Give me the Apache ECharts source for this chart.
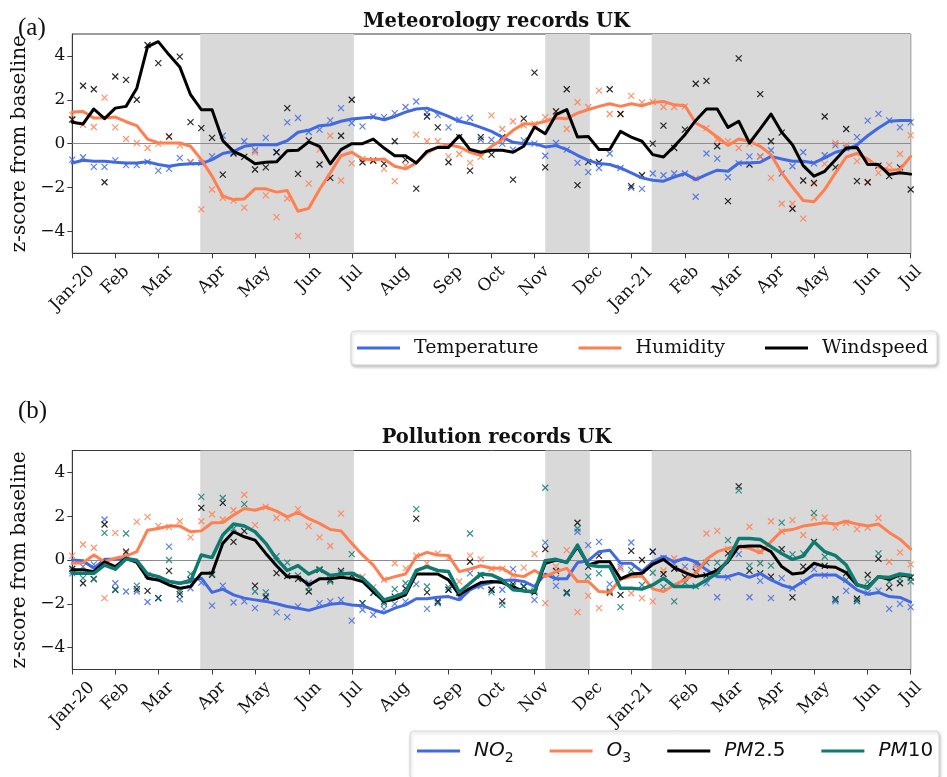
<!DOCTYPE html>
<html>
<head>
<meta charset="utf-8">
<script src="https://cdn.jsdelivr.net/npm/echarts@6/dist/echarts.min.js"></script>
<style>
  html, body { margin: 0; padding: 0; background: #ffffff; }
  #chart { width: 947px; height: 777px; }
</style>
</head>
<body>
<div id="chart"></div>
<script>
// Weekly z-scores (week 0 = first week of Jan 2020, week 78 = first week of Jul 2021)
const monthTickWeeks  = [0, 4, 8, 13, 17, 22, 26, 30, 35, 39, 43, 48, 52, 57, 61, 65, 69, 74, 78];
const monthTickLabels = ['Jan-20', 'Feb', 'Mar', 'Apr', 'May', 'Jun', 'Jul', 'Aug', 'Sep', 'Oct', 'Nov', 'Dec',
                         'Jan-21', 'Feb', 'Mar', 'Apr', 'May', 'Jun', 'Jul'];
const yTicks = [-4, -2, 0, 2, 4];

// Lockdown periods, in weeks
const lockdownStart = [11.9, 44.0, 53.9];
const lockdownEnd   = [26.2, 48.15, 78];

// ---- Meteorology: smoothed lines ----
const temperatureLine = [
  -0.88, -0.76, -0.8, -0.8, -0.85, -0.88, -0.88, -0.83, -0.95, -1.03, -0.95, -0.92, -0.91, -0.73, -0.45, -0.35,
  -0.12, -0.05, -0.05, -0.05, 0.14, 0.52, 0.61, 0.82, 0.86, 1.02, 1.12,
  1.17, 1.21, 1.09, 1.24, 1.44, 1.58, 1.62, 1.44, 1.24, 1.02, 0.91, 0.74, 0.56, 0.3, 0.06, 0, 0, -0.15, -0.09,
  -0.27, -0.53, -0.76, -0.91, -0.95, -1.11, -1.33, -1.56, -1.67,
  -1.71, -1.52, -1.36, -1.64, -1.41, -1.21, -1.26, -0.88, -0.88, -0.85, -0.58, -0.7, -0.8, -0.8, -0.88, -0.65,
  -0.39, -0.27, -0.05, 0.36, 0.71, 1.02, 1.06, 1.05
];
const humidityLine = [
  1.44, 1.47, 1.17, 1.17, 1.21, 1.0, 0.82, 0.21, 0.03, 0.03, 0.03, -0.12, -0.73, -1.48, -2.39, -2.55, -2.52,
  -2.06, -2.06, -2.21, -2.14, -3.08, -2.95, -2.09, -1.33, -0.55, -0.39,
  -0.7, -0.73, -0.7, -1.03, -1.15, -0.88, -0.42, -0.15, -0.05, -0.15, -0.39, -0.53, -0.12, 0.18, 0.61, 0.91,
  0.89, 1.02, 1.17, 1.14, 1.39, 1.55, 1.7, 1.82, 1.7, 1.82, 1.73, 1.88,
  1.92, 1.77, 1.73, 0.94, 0.67, 0.3, -0.08, 0.21, 0.11, -0.12, -0.5, -1.33, -1.98, -2.59, -2.65, -2.09, -1.33,
  -0.61, -0.45, -0.7, -1.06, -1.21, -1.18, -0.58
];
const windspeedLine = [
  0.98, 0.9, 1.58, 1.14, 1.62, 1.7, 2.53, 4.42, 4.65, 4.05, 3.5, 2.23, 1.55, 1.55, 0.14, -0.35, -0.58, -0.92,
  -0.85, -0.83, -0.32, -0.3, 0.08, -0.12, -0.92, -0.27, 0,
  0, 0.21, -0.2, -0.55, -0.55, -0.88, -0.35, -0.17, -0.17, 0.36, -0.27, -0.39, -0.3, -0.3, -0.39, -0.12, 0.76,
  0.45, 1.32, 1.55, 0.3, 0.33, -0.27, -0.27, 0.56, 0.3, 0.11, -0.5,
  -0.61, -0.12, 0.41, 1.06, 1.58, 1.58, 0.74, 1.02, 0.03, 0.67, 1.35, 0.52, -0.05, -1.0, -1.48, -1.26, -0.73,
  -0.2, -0.17, -0.95, -0.95, -1.41, -1.33, -1.39
];

// ---- Meteorology: weekly values ----
const temperatureWeekly = [
  -0.73, -0.62, -1.06, -1.06, -0.76, -0.98, -0.98, -0.83, -1.23, -1.15, -0.65, -0.85, -0.88, -0.58, 0.36, -0.4,
  0.11, -0.3, 0.26, -0.39, 0.97, 1.17, 0.53, 0.64, 1.06, 1.62, 0.94,
  0.79, 1.24, 1.21, 1.39, 1.67, 1.92, 1.42, 1.3, 0.74, 1.09, 1.17, 0.18, 0.18, 0, -0.27, 0.15, 0, -0.55, 0.03,
  -0.27, -0.88, -1.3, -1.11, -0.45, -1.11, -2.02, -2.06, -1.36,
  -1.44, -1.36, -1.36, -2.42, -0.45, -0.68, -1.53, -0.9, -0.58, -0.58, -0.3, -1.36, -1.03, -0.39, -0.9, -0.53,
  -0.08, -0.2, 0.3, 1.05, 1.36, 1.06, 0.74, 0.97
];
const humidityWeekly = [
  1.3, 0.86, 0.76, 2.1, 0.74, 0.21, 0.03, -0.2, 0.0, 0.3, -0.08, -0.85, -3.0, -2.09, -2.47, -2.6, -2.92, -0.4,
  -2.36, -3.35, -2.5, -4.21, -1.82, -0.27, 0.36, -1.68, -0.9,
  -0.7, -0.8, -1.15, -1.71, -1.0, 0.41, 0.11, 0.11, -0.58, -0.47, -0.88, -0.6, 1.29, 0.67, 1.02, 0.83, 0.9,
  1.21, 1.47, 0.67, 1.89, 1.67, 2.42, 1.35, 1.35, 2.18, 1.88, 1.9,
  1.67, 1.67, 1.7, -1.59, 0.71, 0.18, 0.11, -0.2, 0.0, -0.61, -1.56, -2.74, -2.74, -3.42, -1.83, -0.92, 0.03,
  -0.08, -0.8, -1.76, -1.33, -0.98, -0.47, 0.38
];
const windspeedWeekly = [
  1.1, 2.64, 2.48, -1.76, 3.06, 2.91, 2.0, 4.5, 3.67, 0.33, 3.97, 0.98, 0.71, 0.26, -1.41, -0.45, -0.6, -1.18,
  -1.08, -0.39, 1.62, -1.38, 0.15, -0.95, -1.56, 0.36, 2.0,
  -0.85, -0.77, -0.91, 0.11, -0.73, -2.05, 1.24, 0.74, -0.85, 0.3, -1.23, 0.3, -0.5, 0.29, -1.64, 1.14, 3.24,
  -1.08, 1.47, 2.48, -1.89, -0.83, -0.85, 2.48, 1.35, -1.94, -1.44, 0,
  0.82, -0.2, 0.64, 2.73, 2.86, -0.12, -2.62, 3.89, -0.95, 2.26, 0.11, 0.5, -2.97, -1.68, -1.79, 1.24, -1.08,
  0.67, -1.71, -1.76, -1.0, -1.48, -1.08, -2.09
];

// ---- Pollution: smoothed lines ----
const no2Line = [
  0, -0.03, -0.38, 0.03, 0.03, 0.08, 0, -0.83, -0.91, -0.98, -1.06, -0.91, -0.83, -1.48, -1.33, -1.59, -1.74,
  -1.82, -1.89, -2.0, -2.12, -2.2, -2.3, -2.15, -2.02, -1.97, -2.05,
  -2.09, -2.27, -2.42, -2.2, -2.05, -1.77, -1.77, -1.7, -1.67, -1.82, -1.36, -1.14, -1.03, -0.94, -0.91, -0.98,
  -1.21, -0.64, -0.86, -0.86, -0.12, -0.03, 0.38, 0.45, -0.15, -0.15, -0.53, -0.08,
  0.15, -0.08, 0.08, -0.08, -0.45, -0.76, -0.76, -0.61, -0.79, -0.61, -0.91, -1.14, -1.29, -0.98, -0.68, -0.68,
  -0.68, -0.98, -1.36, -1.56, -1.48, -1.67, -1.71, -1.92
];
const o3Line = [
  -0.15, -0.12, 0.23, -0.08, 0.08, 0.18, 0.38, 1.36, 1.44, 1.55, 1.55, 1.29, 1.33, 1.7, 1.71, 2.05, 2.35, 2.27,
  2.42, 2.23, 1.97, 2.17, 1.89, 1.67, 1.39, 1.33, 0.76,
  0.23, -0.23, -0.91, -0.76, -0.64, 0.15, 0.35, 0.23, 0.2, -0.53, -0.41, -0.26, -0.38, -0.38, -0.68, -0.76,
  -0.48, -0.76, -0.53, -0.38, -0.98, -0.98, -1.44, -1.47, -0.88, -0.76, -0.73, -1.32,
  -1.44, -1.14, -0.91, -0.61, 0.03, 0.38, 0.53, 0.61, 0.53, 0.33, 0.83, 1.33, 1.39, 1.55, 1.62, 1.7, 1.64,
  1.77, 1.64, 1.55, 1.64, 1.26, 0.95, 0.5
];
const pm25Line = [
  -0.45, -0.45, -0.53, -0.08, -0.3, 0.08, -0.11, -0.83, -0.91, -1.14, -1.29, -1.21, -0.61, -0.61, 0.76, 1.29,
  1.06, 0.91, 0.3, -0.26, -0.76, -0.76, -1.14, -0.86, -0.86, -0.79, -0.85,
  -0.98, -1.44, -1.89, -1.79, -1.59, -0.64, -0.64, -0.64, -0.91, -1.59, -1.29, -1.03, -0.98, -1.03, -1.24,
  -1.41, -1.48, -0.15, 0, -0.11, 0.61, -0.23, -0.08, -0.08, -0.86, -0.64, -0.61, -0.2,
  0.03, -0.35, -0.58, -0.76, -0.68, -0.48, -0.08, 0.61, 0.64, 0.64, 0.38, -0.3, -0.64, -0.58, -0.15, -0.3,
  -0.33, -0.58, -1.14, -1.24, -0.76, -0.88, -0.68, -0.76
];
const pm10Line = [
  -0.61, -0.61, -0.61, -0.23, -0.42, 0.05, -0.03, -0.64, -0.76, -0.98, -1.06, -0.98, 0.23, 0.11, 1.14, 1.64,
  1.55, 1.29, 0.76, 0.05, -0.48, -0.26, -0.64, -0.42, -0.71, -0.64, -0.6,
  -0.83, -1.29, -1.82, -1.67, -1.48, -0.48, -0.3, -0.48, -0.53, -1.48, -1.06, -0.64, -0.68, -0.91, -1.36,
  -1.41, -1.44, -0.03, 0.03, -0.11, 0.68, -0.23, -0.3, -0.3, -1.29, -1.29, -1.33, -1.14,
  -0.83, -1.21, -1.21, -1.21, -0.91, -0.61, 0, 0.98, 0.98, 0.94, 0.61, 0.3, 0.03, 0.18, 0.83, 0.38, 0.2,
  -0.23, -1.11, -1.29, -0.76, -0.8, -0.64, -0.71
];

// ---- Pollution: weekly values ----
const no2Weekly = [
  -0.61, -0.3, -0.2, 1.85, -1.06, -1.44, -1.44, -1.92, -1.74, 0.61, -1.79, -1.29, -1.03, -2.08, -1.17, -1.94,
  -1.89, -2.2, -1.74, -2.39, -2.61, -2.12, -1.03, -1.97, -1.89, -1.82, -2.77,
  -2.27, -2.5, -2.24, -2.0, -1.9, -1.1, -2.23, -1.94, -1.36, -1.7, -0.61, -1.2, -1.36, -1.36, -0.42, -1.21,
  -1.82, 0.79, -1.18, -1.52, 1.29, 0.68, 0.83, -1.1, -0.3, 0.8, -0.5, 0.38,
  0.1, -0.2, -0.3, -0.2, -1.06, -1.7, -0.8, 0.27, -1.7, -0.95, -1.74, -0.83, -1.29, -1.0, -0.42, -0.7, -1.89,
  -1.41, -1.89, -1.5, -1.4, -2.23, -2.0, -2.15
];
const o3Weekly = [
  0.2, 0.71, 0.56, -1.74, 1.24, 0.3, 1.74, 1.97, 1.56, 1.5, 1.77, 1.03, 1.77, 2.09, 1.85, 2.27, 2.98, 1.59,
  2.42, 1.92, 1.89, 2.32, 1.55, 1.03, 0.64, 2.12, -0.68,
  -0.76, -1.24, -0.9, -0.15, -0.38, 0.2, -0.15, 0.3, 0.1, -0.98, 0.2, 0.03, -0.4, -0.4, -0.7, -0.35, 0.27,
  -1.97, -0.3, 0.45, -2.38, -1.64, -2.2, -1.52, -0.4, -1.52, -1.74, -1.89,
  -0.48, 0.08, -0.5, -0.3, 1.21, 1.33, 0.5, 0.6, 1.52, 0.4, 1.77, 1.3, 1.82, 1.14, 1.94, 1.94, 1.48, 1.7,
  1.41, 1.48, 1.92, -0.08, 0.35, -0.2
];
const pm25Weekly = [
  -0.4, -1.06, -0.86, 1.62, -1.36, 0.38, -1.33, -1.41, -1.74, -0.5, -1.56, -0.9, 2.38, -0.68, 2.61, 0.83,
  1.32, -1.17, -1.67, -0.6, -0.73, -0.86, -1.44, -0.45, -0.9, -0.5, -0.7,
  -1.97, -1.5, -1.9, -1.67, -1.3, 1.89, -1.48, -1.89, -1.36, -1.5, -0.08, -0.7, -1.36, -1.89, -1.1, -1.21,
  -1.48, 0.5, -0.5, -1.48, 1.7, -0.3, 0.2, -1.48, -1.59, 0.42, 0, 0.38,
  -0.64, -0.4, -0.79, -0.53, -0.7, -0.5, 0.3, 3.36, -0.5, -0.61, -0.76, 0.5, -1.71, -0.3, 0.83, -0.27, -1.79,
  -0.6, -1.77, -0.68, 0.05, -1.26, -1.06, -0.8
];
const pm10Weekly = [
  -0.5, -0.83, -0.88, 1.24, -1.36, 1.21, -1.17, -0.68, -1.74, 0, -1.44, -0.64, 2.88, -0.64, 2.83, 1.44, 2.55,
  -1.44, -1.48, 0.18, -0.12, -0.71, -1.26, -0.42, -0.98, -0.6, 0.27,
  -1.97, -1.5, -2.0, -1.33, -1.06, 2.32, -1.21, -1.97, -1.24, -1.5, 1.21, -0.68, -1.48, -2.05, -1.2, -1.2,
  -1.4, 3.3, -0.83, -1.52, 1.44, -0.76, -0.61, -1.4, -2.15, -0.45, -1.14, -0.58,
  -1.24, -1.89, -1.03, -1.2, -0.12, -0.12, 0.91, 3.18, -0.26, -0.15, -0.26, 1.71, 0.26, 0.3, 2.15, 0.15,
  -1.79, -0.91, -1.86, -1.0, 0.3, -1.0, -0.86, -0.98
];

// ---- styling ----
const SERIF = 'DejaVu Serif';
const AXIS_COLOR = '#3a3a3a';
const TEXT_COLOR = '#111111';
const BLUE = '#4169e1', CORAL = '#ff7f50', BLACK = '#000000', TEAL = '#0f7b70';
const CROSS = 'path://M0,0L10,10M10,0L0,10';
const TICK_FONT = 17;

// Month labels are rotated 45 degrees and centred under their tick;
// longer labels are nudged down so every label's top edge sits the same distance below the axis.
const measureCtx = document.createElement('canvas').getContext('2d');
measureCtx.font = TICK_FONT + 'px "' + SERIF + '"';
const monthLabelWidths = monthTickLabels.map(t => measureCtx.measureText(t).width);
const shortestLabel = Math.min(...monthLabelWidths);
const monthRich = {};
monthTickLabels.forEach((t, i) => {
  const p = 0.5 * (monthLabelWidths[i] - shortestLabel);
  monthRich['m' + i] = { fontFamily: SERIF, fontSize: TICK_FONT, color: TEXT_COLOR, padding: [p, p, 0, 0] };
});
const monthMargin = 11 + 0.354 * (shortestLabel + 0.75 * TICK_FONT);

const toPairs = arr => arr.map((v, k) => [k, v]);
const minusSign = v => (v < 0 ? '\u2212' + Math.abs(v) : String(v));

function xAxisFor(g) {
  return {
    type: 'value', gridIndex: g, min: 0, max: 78,
    axisLine: { show: true, onZero: false, lineStyle: { color: AXIS_COLOR, width: 1 } },
    axisTick: { show: true, customValues: monthTickWeeks, length: 5, lineStyle: { color: AXIS_COLOR } },
    axisLabel: {
      show: true, customValues: monthTickWeeks, rotate: 45, align: 'center', verticalAlign: 'middle',
      margin: monthMargin,
      formatter: v => { const i = monthTickWeeks.indexOf(v); return '{m' + i + '|' + monthTickLabels[i] + '}'; },
      rich: monthRich
    },
    splitLine: { show: false }
  };
}
function yAxisFor(g) {
  return {
    type: 'value', gridIndex: g, min: -5, max: 5,
    axisLine: { show: true, onZero: false, lineStyle: { color: AXIS_COLOR, width: 1 } },
    axisTick: { show: true, customValues: yTicks, length: 5, lineStyle: { color: AXIS_COLOR } },
    axisLabel: { customValues: yTicks, fontFamily: SERIF, fontSize: TICK_FONT, color: TEXT_COLOR, margin: 7,
                 formatter: minusSign },
    splitLine: { show: false },
    name: 'z-score from baseline', nameLocation: 'middle', nameGap: 32, nameRotate: 90,
    nameTextStyle: { fontFamily: SERIF, fontSize: 20, color: TEXT_COLOR }
  };
}

function lineSeries(name, values, color, g, width, withMarkers) {
  const s = {
    name, type: 'line', xAxisIndex: g, yAxisIndex: g, data: toPairs(values),
    showSymbol: false, symbol: 'none', z: 3, silent: true,
    lineStyle: { color, width, join: 'round', cap: 'round' }, itemStyle: { color }
  };
  if (withMarkers) {
    s.markArea = {
      silent: true, z: 0, itemStyle: { color: '#d9d9d9' },
      data: lockdownStart.map((st, i) => [{ xAxis: st }, { xAxis: lockdownEnd[i] }])
    };
    s.markLine = {
      silent: true, z: 1, symbol: 'none', label: { show: false }, animation: false,
      lineStyle: { color: '#8c8c8c', width: 1.2, type: 'solid' },
      data: [{ yAxis: 0 }]
    };
  }
  return s;
}
function crossSeries(name, values, color, g) {
  return {
    name, type: 'scatter', xAxisIndex: g, yAxisIndex: g, data: toPairs(values),
    symbol: CROSS, symbolSize: 6, z: 2, silent: true,
    itemStyle: { color: 'transparent', borderColor: color, borderWidth: 1.2, opacity: 0.85 }
  };
}

const legendBase = {
  orient: 'horizontal', icon: 'rect', itemWidth: 43, itemHeight: 3, selectedMode: false,
  backgroundColor: '#ffffff', borderColor: '#d4d4d4', borderWidth: 1, borderRadius: 4,
  shadowColor: 'rgba(0,0,0,0.22)', shadowBlur: 3, shadowOffsetX: 1, shadowOffsetY: 2
};

const option = {
  animation: false,
  backgroundColor: '#ffffff',
  title: [
    { text: '(a)', left: 13, top: 11, textStyle: { fontFamily: 'Liberation Serif', fontSize: 25, fontWeight: 'normal', color: TEXT_COLOR } },
    { text: 'Meteorology records UK', left: 491.5, textAlign: 'center', top: 7,
      textStyle: { fontFamily: SERIF, fontSize: 19.5, fontWeight: 'bold', color: TEXT_COLOR } },
    { text: '(b)', left: 13, top: 394, textStyle: { fontFamily: 'Liberation Serif', fontSize: 25, fontWeight: 'normal', color: TEXT_COLOR } },
    { text: 'Pollution records UK', left: 491.5, textAlign: 'center', top: 423,
      textStyle: { fontFamily: SERIF, fontSize: 19.5, fontWeight: 'bold', color: TEXT_COLOR } }
  ],
  grid: [
    { left: 72.3, right: 36.3, top: 34, height: 219.3, show: true, borderColor: AXIS_COLOR, borderWidth: 1, backgroundColor: 'transparent' },
    { left: 72.3, right: 36.3, top: 450.5, height: 219, show: true, borderColor: AXIS_COLOR, borderWidth: 1, backgroundColor: 'transparent' }
  ],
  xAxis: [xAxisFor(0), xAxisFor(1)],
  yAxis: [yAxisFor(0), yAxisFor(1)],
  legend: [
    Object.assign({}, legendBase, {
      left: 351, top: 331, itemGap: 40, padding: [7, 9, 7, 6],
      data: ['Temperature', 'Humidity', 'Windspeed'],
      textStyle: { fontFamily: SERIF, fontSize: 19, color: TEXT_COLOR, padding: [0, 0, 0, 9], lineHeight: 20 }
    }),
    Object.assign({}, legendBase, {
      left: 410, top: 731, itemGap: 36, padding: [10, 6, 14, 7],
      data: ['NO2', 'O3', 'PM2.5', 'PM10'],
      formatter: name => ({
        'NO2': '{i|NO}{s|2}', 'O3': '{i|O}{s|3}', 'PM2.5': '{i|PM}{n|2.5}', 'PM10': '{i|PM}{n|10}'
      })[name],
      textStyle: {
        color: TEXT_COLOR, padding: [0, 0, 0, 9],
        rich: {
          i: { fontFamily: 'DejaVu Sans', fontStyle: 'italic', fontSize: 20, color: TEXT_COLOR, lineHeight: 28, verticalAlign: 'middle' },
          n: { fontFamily: 'DejaVu Sans', fontSize: 20, color: TEXT_COLOR, lineHeight: 28, verticalAlign: 'middle' },
          s: { fontFamily: 'DejaVu Sans', fontSize: 14, color: TEXT_COLOR, lineHeight: 14, verticalAlign: 'bottom' }
        }
      }
    })
  ],
  series: [
    crossSeries('Temperature weekly', temperatureWeekly, BLUE, 0),
    crossSeries('Humidity weekly', humidityWeekly, CORAL, 0),
    crossSeries('Windspeed weekly', windspeedWeekly, BLACK, 0),
    lineSeries('Temperature', temperatureLine, BLUE, 0, 3, true),
    lineSeries('Humidity', humidityLine, CORAL, 0, 3, false),
    lineSeries('Windspeed', windspeedLine, BLACK, 0, 3, false),

    crossSeries('NO2 weekly', no2Weekly, BLUE, 1),
    crossSeries('O3 weekly', o3Weekly, CORAL, 1),
    crossSeries('PM2.5 weekly', pm25Weekly, BLACK, 1),
    crossSeries('PM10 weekly', pm10Weekly, TEAL, 1),
    lineSeries('NO2', no2Line, BLUE, 1, 3, true),
    lineSeries('O3', o3Line, CORAL, 1, 3, false),
    lineSeries('PM2.5', pm25Line, BLACK, 1, 3, false),
    lineSeries('PM10', pm10Line, TEAL, 1, 3.5, false)
  ]
};

const chart = echarts.init(document.getElementById('chart'), null, { renderer: 'canvas' });
chart.setOption(option);
</script>
</body>
</html>
